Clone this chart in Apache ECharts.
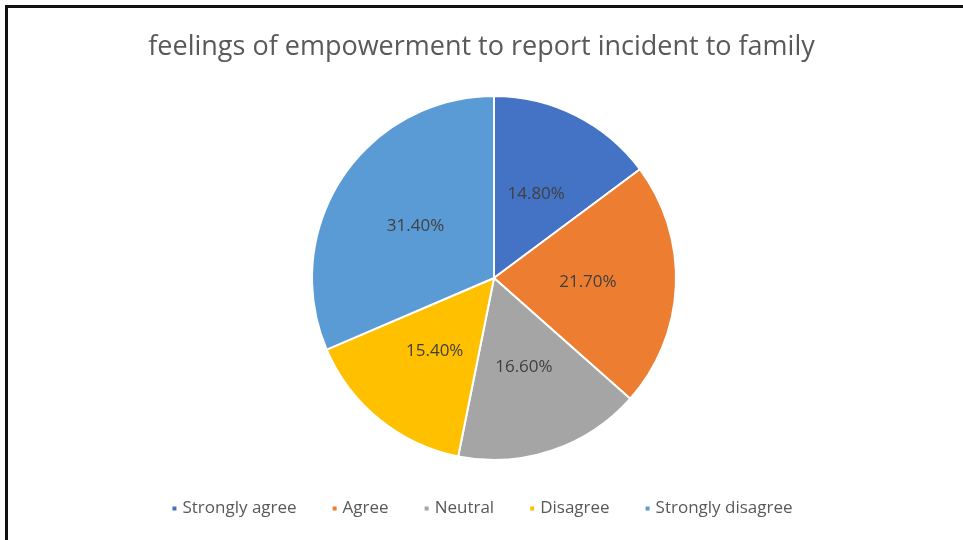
<!DOCTYPE html>
<html>
<head>
<meta charset="utf-8">
<script src="https://cdn.jsdelivr.net/npm/echarts@6/dist/echarts.min.js"></script>
<style>
    html, body { margin: 0; padding: 0; background: #fff; }
    #frame {
        position: absolute; left: 5px; top: 5px; width: 958px; height: 535px;
        border-top: 3px solid #111; border-left: 3px solid #111;
    }
    #pie { position: absolute; left: 0; top: 0; width: 963px; height: 540px; }
</style>
</head>
<body>
<div id="frame"></div>
<div id="pie"></div>
<script>
// ---- data ----
var categories = ['Strongly agree', 'Agree', 'Neutral', 'Disagree', 'Strongly disagree'];
var shares = [14.8, 21.7, 16.6, 15.4, 31.4];
var colors = ['#4472C4', '#ED7D31', '#A5A5A5', '#FFC000', '#5B9BD5'];

function renderPie() {
    var dom = document.getElementById("pie");
    var myChart = echarts.init(dom);
    var option;

    var items = categories.map(function (name, i) {
        return { name: name, value: shares[i] };
    });

    option = {
        color: colors,
        title: {
            text: 'feelings of empowerment to report incident to family',
            left: 'center',
            top: 29,
            textStyle: {
                fontFamily: 'Open Sans',
                fontWeight: 'normal',
                fontSize: 27,
                color: '#595959'
            }
        },
        legend: {
            bottom: 18,
            left: 'center',
            icon: 'rect',
            itemWidth: 6,
            itemHeight: 6,
            itemGap: 34,
            textStyle: {
                fontFamily: 'Open Sans',
                fontSize: 17,
                color: '#595959'
            },
            data: categories
        },
        series: [{
            type: 'pie',
            center: [494, 278],
            radius: 182,
            startAngle: 90,
            clockwise: true,
            avoidLabelOverlap: false,
            itemStyle: {
                borderColor: '#fff',
                borderWidth: 2
            },
            label: {
                show: true,
                position: 'inside',
                fontFamily: 'Open Sans',
                fontSize: 17,
                color: '#404040',
                formatter: function (p) {
                    return p.value.toFixed(2) + '%';
                }
            },
            labelLine: { show: false },
            emphasis: { scale: false },
            data: items
        }]
    };

    if (option && typeof option === 'object') {
        myChart.setOption(option);
    }
}
renderPie();
</script>
</body>
</html>
